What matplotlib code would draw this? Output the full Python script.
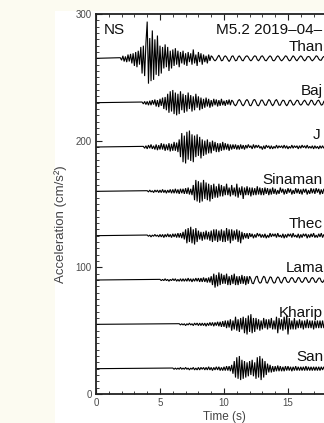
import matplotlib
matplotlib.use('Agg')
import matplotlib.pyplot as plt
import numpy as np
from matplotlib.patches import Rectangle
from matplotlib.ticker import MultipleLocator
from matplotlib.transforms import blended_transform_factory

plt.rcParams['font.family'] = ['Liberation Sans', 'DejaVu Sans']

# ---------------- data ----------------
# station names as far as they are visible (the reference is cropped at the right edge)
stations = ["Than", "Baj", "J", "Sinaman", "Thec", "Lama", "Kharip", "San"]
offsets = [265, 230, 195, 160, 125, 90, 55, 20]          # cm/s^2 baseline of each trace
start_times = [1.9, 3.6, 3.7, 4.0, 4.0, 5.0, 6.5, 6.0]   # s, first sample after flat lead-in
dt = 0.1                                                  # s, sample step of the lists below

thankot = [
    0.5, -1.5, 2, -2.5, 1.5, -3, 3, -2.5, 3.5, -4,
    4, -6, 5, -7, 6, -5, 9, -12, 10, -14,
    12, 29, -20, 16, -18, 22, -17, 15, -13, 18,
    -14, 10, -12, 9, -8, 11, -7, 9, -10, 6,
    -8, 7, -6, 8, -5, 6, -7, 5, -4, 6,
    -5, 4, -6, 5, -3, 4, -5, 7, -4, 3,
    -6, 5, -3, 4, -5, 3, -3, 2, -4, 3,
    -2, 2, 1, -1, -2, -1, 1, 2.5, 0.5, -2,
    -1.5, 1, 2, 1, -1, -2.5, -1, 1.5, 2, 0,
    -2, -1.5, 1, 2, 0.5, -1.5, -2, 0, 1.5, 2,
    1, -1, -2, -1, 1, 2, 1.5, -1, -2, -0.5,
    1.5, 2, 0.5, -1.5, -2, -0.5, 1, 2, 1, -1.5,
    -2, -1, 1, 2, 1, -1, -2, -1, 0.5, 2,
    1.5, -0.5, -2, -1.5, 0.5, 2, 1, -1, -2, -0.5,
    1, 2, 1, -1, -2, -1, 1, 1.5, 1, -1,
    -2, -1, 0.5, 2, 1.5, -0.5, -1.5, -1.5, 0.5, 1.5,
    1,
]
bajra = [
    0.5, -1, 1, -1.5, 1, -2, 1.5, -2, 2, -1.5,
    2.5, -3, 2, -3.5, 3, -2.5, 4, -5, 4.5, -6,
    7, -8, 9, -7, 10, -9, 8, -10, 7, -9,
    9, -6, 7, -8, 6, -7, 8, -5, 6, -7,
    5, -6, 7, -4, 5, -6, 4, -5, 3, -4,
    4, -3, 3, -4, 2, -3, 3, -2, 2.5, -3,
    2, -2.5, 3, -2, 1.5, -2.5, 2, -1.5, 2.5, -2,
    2, 1, -1.5, -2.5, -1, 1.5, 2.5, 1, -1.5, -2.5,
    -1, 1.5, 2.5, 1, -2, -2.5, -0.5, 2, 2.5, 0.5,
    -2, -2.5, -0.5, 2, 2, 0, -2, -2, 0.5, 2.5,
    1.5, -1, -2.5, -1, 1.5, 2.5, 0.5, -2, -2, 0.5,
    2, 1.5, -1, -2.5, -1, 1.5, 2, 0, -2, -1.5,
    0.5, 2, 1.5, -1, -2, -1, 1, 2, 0.5, -1.5,
    -2, 0, 2, 1.5, -1, -2, -0.5, 1.5, 2, 0,
    -2, -1.5, 1, 2,
]
jiri = [
    0.5, -1, 1, -1.5, 1.5, -1, 2, -1.5, 1, -2,
    2, -2.5, 1.5, -2, 3, -2, 2.5, -3, 2, -2.5,
    3, -3.5, 2.5, -3, 4, -3, 3.5, -4, 6, -8,
    11, -12, 9, -13, 12, -10, 13, -11, 10, -12,
    9, -8, 10, -7, 8, -9, 6, -7, 5, -6,
    6, -5, 4, -5, 5, -3, 4, -4, 3, -4,
    3, -3, 4, -2.5, 3, -2, 2.5, -3, 2, -2,
    2, -1.5, 2, -2, 1.5, -2, 2, -1.5, 1.5, -2,
    1.5, -1, 2, -0.5, 1, -1.5, 2, -1, 1.5, -0.5,
    1.5, -1, 0.5, -2, 1, -1.5, 1.5, -0.5, 1, -1.5,
    1, -1.5, 0.5, -1, 1.5, -1, 1, -0.5, 1, -1,
    1.5, -1, 1, -1.5, 0.5, -1, 1.5, -1, 1, -0.5,
    1, -1.5, 1, -1, 1.5, -0.5, 1, -1, 1.5, -1,
    0.5, -1, 1, -1.5, 1, -1, 0.5, -1.5, 1, -1,
    1, -1, 1,
]
sinamangal = [
    0.5, -0.5, 1, -0.5, 0.5, -1, 1, -0.5, 1, -1,
    1, -1, 1.5, -1, 1, -1.5, 1, -1, 1.5, -1.5,
    1.5, -1.5, 2, -1.5, 1.5, -2, 2, -1.5, 2, -2,
    2.5, -2, 3, -2.5, 2, -3, 5, -7, 9, -8,
    8, -9, 7, -8, 9, -6, 7, -7, 6, -8,
    5, -6, 6, -5, 4, -5, 6, -4, 5, -4,
    4, -3, 6, -3, 3, -4, 5, -3, 3, -4,
    6, -5, 3, -3, 4, -6, 3, -3, 4, -3,
    3, -4, 3, -3, 2.5, -3, 4, -2.5, 3, -3,
    2.5, -3, 3, -2, 2.5, -3, 2, -2.5, 3, -2,
    2, -2.5, 1, -2, 3, -1, 2, -2.5, 1.5, -2,
    2.5, -1, 2, -2.5, 1, -2, 2.5, -1.5, 2, -2,
    1.5, -2.5, 2, -1, 2, -2.5, 1, -2, 2.5, -1.5,
    2, -2, 2.5, -1, 2, -2.5, 1.5, -2, 2, -1,
]
thecho = [
    0.5, -0.5, 0.5, -1, 0.5, -0.5, 1, -0.5, 0.5, -1,
    1, -1, 1, -1.5, 1, -1, 1.5, -1, 1, -1.5,
    1.5, -1, 1.5, -1.5, 2, -1.5, 2, -2, 3, -3,
    5, -6, 6, -5, 7, -6, 5, -7, 6, -5,
    4, -3, 3, -4, 3, -3, 4, -3, 3, -4,
    4, -5, 5, -4, 5, -5, 4, -4, 5, -5,
    4, -5, 6, -4, 5, -6, 5, -4, 4, -3,
    5, -5, 4, -6, 3, -3, 2, -2, 2, -2.5,
    2, -1, 1.5, -2, 1, -1.5, 2, -0.5, 1.5, -1.5,
    1, -1.5, 1.5, -2, 0.5, -1.5, 2, -1, 1.5, -0.5,
    1.5, -1.5, 2, -1, 0.5, -1.5, 1.5, -2, 1, -1.5,
    1.5, -0.5, 1.5, -1.5, 2, -1, 0.5, -1.5, 1.5, -2,
    1, -1.5, 1.5, -0.5, 1.5, -2, 1, -1.5, 1.5, -1,
    2, -1.5, 0.5, -1.5, 1.5, -1, 2, -1.5, 1, -1.5,
]
lamatar = [
    0.5, -0.5, 0.5, -0.5, 1, -0.5, 0.5, -1, 0.5, -0.5,
    1, -0.5, 1, -1, 0.5, -1, 1, -1, 1, -1,
    1, -1, 1.5, -1, 1, -1.5, 1, -1, 1.5, -1,
    1.5, -1.5, 1.5, -1.5, 2, -1.5, 1.5, -2, 2, -2,
    3, -4, 5, -6, 4, -5, 6, -4, 5, -3,
    4, -3, 5, -4, 3, -4, 4, -3, 5, -4,
    3, -4, 3, -3, 4, -3, 3, -4, 3, -3,
    3, 1, -2.5, -3, 0, 2.5, 3, -1, -2.5, -2,
    1, 3, 2, -2, -2.5, 0, 2.5, 2, -1, -2.5,
    -2, 1, 2.5, 1.5, -1.5, -2.5, 0, 2, 2, -1,
    -2, -1.5, 1, 2, 1, -1.5, -2, 0, 2, 1.5,
    -1, -2, -1, 1.5, 2, 0, -2, -1.5, 1, 2,
    1, -1.5, -2, 0, 1.5, 1.5, -1, -2, -0.5, 1.5,
]
kharipati = [
    0.5, -0.5, 0.5, -0.5, 0.5, -1, 0.5, -0.5, 1, -0.5,
    0.5, -1, 1, -0.5, 1, -1, 1, -1, 1, -1,
    1, -1.5, 1, -1, 1.5, -1, 1.5, -1.5, 1.5, -1,
    2, -1.5, 2, -2, 2.5, -2, 3, -3, 3, -2.5,
    4, -5, 3, -4, 6, -5, 4, -6, 5, -4,
    6, -7, 5, -8, 7, -6, 8, -7, 5, -6,
    5, -4, 4, -5, 3, -4, 5, -3, 4, -4,
    4, -3, 5, -4, 3, -4, 6, -7, 5, -4,
    4, -5, 6, -4, 7, -8, 5, -4, 3, -4,
    5, -4, 3, -3, 4, -3, 3, -4, 3, -3,
    4, -3, 3, -3, 3, -4, 3, -3, 3, -3,
    3, -3, 3, -3, 3,
]
sankhu = [
    0.5, -0.5, 0.5, -0.5, 0.5, -0.5, 1, -0.5, 0.5, -0.5,
    1, -0.5, 0.5, -1, 0.5, -0.5, 1, -1, 0.5, -1,
    1, -1, 1, -0.5, 1, -1, 1, -1, 1.5, -1,
    1, -1.5, 1, -1, 1.5, -1, 1.5, -1.5, 1, -1.5,
    1.5, -1.5, 2, -1.5, 2, -2, 3, -4, 6, -7,
    9, -8, 10, -9, 7, -8, 6, -7, 5, -6,
    6, -5, 7, -6, 5, -8, 9, -7, 10, -9,
    8, -7, 6, -5, 4, -3, 3, -3, 2, -2.5,
    2, -2, 2.5, -2, 2, -2, 1.5, -2, 2, -1.5,
    2, -1.5, 1.5, -2, 1.5, -1.5, 2, -1.5, 1.5, -1.5,
    1.5, -1.5, 1.5, -1.5, 2, -1.5, 1.5, -1.5, 1.5, -1.5,
    1.5, -1.5, 1.5, -1.5, 1.5, -1.5, 1.5, -1, 1.5, -1.5,
]
traces = [thankot, bajra, jiri, sinamangal, thecho, lamatar, kharipati, sankhu]

component = "NS"
event_title = "M5.2 2019\u201304\u2013"
x_ticks = [0, 5, 10, 15]
y_ticks = [0, 100, 200, 300]

# ---------------- layout (pixels of the 324x423 picture) ----------------
W, H = 324, 423
label_left_px = [288.5, 301, 313, 262, 289, 285.5, 279, 296]
title_left_px = 216
ns_left_px = 104

fig = plt.figure(figsize=(W / 100, H / 100), dpi=100)
fig.patch.set_facecolor('#fcfbf1')
fig.patches.append(Rectangle((55 / W, 0), 1, (H - 11) / H, transform=fig.transFigure,
                             facecolor='white', edgecolor='none', zorder=-5))

ax = fig.add_axes([96 / W, 29 / H, 256 / W, 380 / H])
ax.set_facecolor('white')
ax.set_xlim(0, 20)
ax.set_ylim(0, 300)
lbl_tr = blended_transform_factory(fig.transFigure, ax.transData)

for name, off, t0, vals, lx in zip(stations, offsets, start_times, traces, label_left_px):
    t = np.concatenate([[0.0], t0 + dt * np.arange(len(vals))])
    y = off + np.concatenate([[0.0], np.asarray(vals, dtype=float)])
    ax.plot(t, y, color='black', lw=0.8, solid_joinstyle='miter')
    ax.text(lx / W, off + 6, name, ha='left', va='baseline', fontsize=11,
            color='#111111', transform=lbl_tr)

ax.text(ns_left_px / W, 284, component, ha='left', va='baseline', fontsize=11,
        color='#111111', transform=lbl_tr)
ax.text(title_left_px / W, 284, event_title, ha='left', va='baseline', fontsize=11,
        color='#111111', transform=lbl_tr)

ax.set_xticks(x_ticks)
ax.set_yticks(y_ticks)
ax.xaxis.set_minor_locator(MultipleLocator(1))
ax.yaxis.set_minor_locator(MultipleLocator(5))
ax.tick_params(which='both', direction='in', top=True, right=False, color='#222222',
               labelsize=7, labelcolor='#4a4a4a', pad=3)
ax.tick_params(which='major', length=4, width=0.8)
ax.tick_params(which='minor', length=2, width=0.6)
for s in ['left', 'bottom', 'top']:
    ax.spines[s].set_linewidth(1.3)
    ax.spines[s].set_color('#222222')
ax.spines['right'].set_visible(False)

fig.text(61 / W, 1 - 224 / H, 'Acceleration (cm/s\u00b2)', rotation=90, ha='center', va='center',
         fontsize=9.5, color='#444444')
fig.text(224 / W, 1 - 417 / H, 'Time (s)', ha='center', va='center', fontsize=8.5, color='#444444')

fig.savefig('out.png', dpi=100, facecolor=fig.get_facecolor())
